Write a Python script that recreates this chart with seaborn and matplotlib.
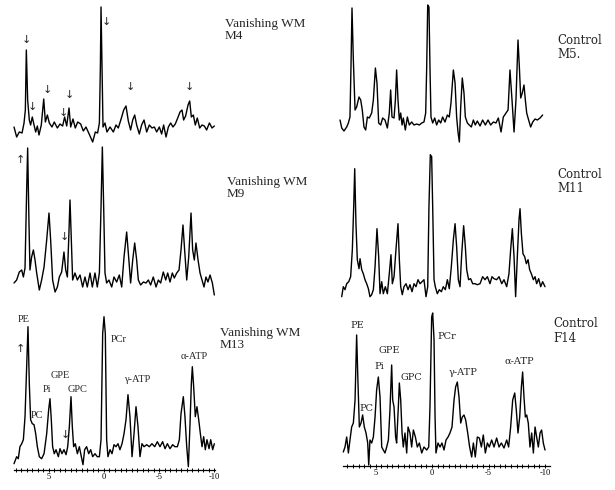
import matplotlib
matplotlib.use("Agg")
import matplotlib.pyplot as plt
import numpy as np
import seaborn as sns

# 31P MR spectra: chemical shift (ppm) and signal (arbitrary units)
m4_ppm = [8.18, 7.94, 7.70, 7.45, 7.27, 7.15, 7.06, 6.94, 6.79, 6.67,
          6.52, 6.36, 6.21, 6.06, 5.91, 5.70, 5.48, 5.33, 5.15, 4.97,
          4.73, 4.52, 4.24, 4.00, 3.76, 3.58, 3.39, 3.18, 3.03, 2.82,
          2.61, 2.39, 2.12, 1.88, 1.64, 1.39, 1.03, 0.79, 0.58, 0.42,
          0.33, 0.27, 0.18, 0.09, -0.09, -0.27, -0.55, -0.85, -1.09, -1.30,
          -1.61, -1.79, -2.00, -2.21, -2.42, -2.61, -2.79, -2.97, -3.21, -3.42,
          -3.64, -3.88, -4.12, -4.36, -4.58, -4.79, -5.03, -5.24, -5.42, -5.64,
          -5.85, -6.06, -6.27, -6.48, -6.70, -6.91, -7.09, -7.24, -7.42, -7.64,
          -7.79, -7.94, -8.12, -8.30, -8.48, -8.70, -8.91, -9.12, -9.33, -9.58,
          -9.82, -10.03]
m4_sig = [3, -7, -2, -3, 7, 20, 80, 30, 10, 5,
          13, 5, -2, 4, -5, 5, 31, 8, 15, 7,
          3, 8, 2, 6, 4, 13, 4, 22, 3, 11,
          2, 8, 6, -1, 3, -3, -12, -2, -3, 7,
          63, 123, 63, 3, 7, -2, 3, -2, 5, 2,
          13, 20, 24, 9, 0, 10, 15, 5, -4, 5,
          10, -2, 5, 2, 3, -2, 3, -4, 5, -7,
          3, 7, 3, 6, 12, 18, 20, 10, 14, 25,
          29, 13, 15, 5, 12, 2, 5, 4, 0, 7,
          2, 4]

m9_ppm = [8.18, 7.94, 7.70, 7.48, 7.33, 7.18, 7.03, 6.94, 6.82, 6.73,
          6.58, 6.42, 6.27, 6.12, 5.88, 5.67, 5.45, 5.21, 5.00, 4.85,
          4.67, 4.45, 4.24, 4.06, 3.85, 3.64, 3.48, 3.33, 3.21, 3.09,
          2.97, 2.85, 2.64, 2.42, 2.18, 1.94, 1.73, 1.52, 1.27, 1.06,
          0.82, 0.61, 0.42, 0.27, 0.15, 0.03, -0.09, -0.24, -0.45, -0.70,
          -0.91, -1.15, -1.39, -1.61, -1.82, -2.06, -2.24, -2.42, -2.61, -2.79,
          -2.97, -3.12, -3.33, -3.58, -3.82, -4.03, -4.24, -4.48, -4.73, -4.94,
          -5.15, -5.39, -5.61, -5.79, -6.00, -6.21, -6.39, -6.61, -6.82, -7.00,
          -7.18, -7.33, -7.52, -7.70, -7.91, -8.06, -8.21, -8.36, -8.55, -8.73,
          -8.91, -9.09, -9.27, -9.45, -9.64, -9.85, -10.03]
m9_sig = [-3, 0, 8, 10, 3, 12, 90, 132, 57, 10,
          23, 30, 20, 7, -10, 0, 13, 40, 67, 40,
          0, -12, -7, 3, 8, 28, 10, 3, 40, 80,
          40, 0, 7, 0, 5, -7, 3, -7, 7, -7,
          7, -7, 7, 73, 133, 73, 7, -3, 0, -7,
          3, -2, 5, -7, 23, 48, 23, -3, 20, 37,
          20, 0, -5, -2, -3, 0, -5, 3, -7, 0,
          -3, 8, 0, 7, -2, 7, 2, 7, 10, 30,
          55, 30, 0, 23, 67, 30, 20, 37, 20, 7,
          0, -7, 3, -2, 5, -3, -15]

m13_ppm = [8.18, 7.94, 7.79, 7.64, 7.48, 7.33, 7.18, 7.03, 6.91, 6.79,
           6.67, 6.52, 6.36, 6.21, 6.06, 5.88, 5.67, 5.45, 5.21, 5.03,
           4.91, 4.79, 4.67, 4.52, 4.36, 4.15, 4.00, 3.82, 3.64, 3.45,
           3.30, 3.15, 3.00, 2.88, 2.76, 2.61, 2.42, 2.24, 2.06, 1.91,
           1.76, 1.58, 1.39, 1.21, 1.03, 0.82, 0.61, 0.42, 0.27, 0.12,
           0.00, -0.12, -0.24, -0.36, -0.55, -0.73, -0.91, -1.09, -1.27, -1.45,
           -1.64, -1.82, -2.00, -2.18, -2.36, -2.55, -2.73, -2.91, -3.09, -3.27,
           -3.45, -3.64, -3.88, -4.12, -4.36, -4.61, -4.85, -5.09, -5.33, -5.55,
           -5.76, -6.00, -6.24, -6.45, -6.67, -6.85, -7.00, -7.21, -7.36, -7.52,
           -7.67, -7.82, -7.94, -8.03, -8.15, -8.30, -8.45, -8.61, -8.76, -8.91,
           -9.06, -9.21, -9.36, -9.55, -9.70, -9.88, -10.03]
m13_sig = [-17, -10, -12, 0, 3, 7, 30, 80, 120, 63,
           27, 23, 22, 13, 0, -10, -12, -7, 13, 37,
           48, 27, 0, -7, -3, -10, -2, -7, -3, -8,
           0, 20, 50, 20, 0, 3, -7, 0, -10, -18,
           -3, 0, -7, -3, -10, -7, -10, -10, 7, 113,
           130, 113, 7, -10, -3, -7, 2, 0, 3, -3,
           3, 13, 27, 52, 30, -10, 13, 40, 20, -10,
           3, 0, 2, 0, 3, 0, 5, 0, 5, -2,
           3, -2, 2, 0, 0, 7, 33, 50, 30, 0,
           -20, 23, 63, 80, 60, 30, 40, 27, 13, 0,
           10, -3, 7, -2, 7, -3, 3]

m5_ppm = [8.14, 7.99, 7.79, 7.55, 7.40, 7.26, 7.17, 7.08, 6.96, 6.81,
          6.67, 6.46, 6.31, 6.17, 6.02, 5.87, 5.72, 5.55, 5.34, 5.19,
          5.01, 4.87, 4.72, 4.54, 4.37, 4.16, 3.95, 3.78, 3.66, 3.54,
          3.36, 3.24, 3.13, 3.01, 2.89, 2.77, 2.65, 2.54, 2.36, 2.18,
          2.01, 1.80, 1.59, 1.36, 1.12, 0.91, 0.71, 0.56, 0.47, 0.38,
          0.27, 0.18, 0.09, -0.06, -0.24, -0.41, -0.59, -0.77, -0.94, -1.15,
          -1.36, -1.53, -1.68, -1.89, -2.04, -2.18, -2.30, -2.42, -2.54, -2.68,
          -2.83, -2.95, -3.13, -3.30, -3.48, -3.66, -3.83, -4.01, -4.25, -4.48,
          -4.72, -4.96, -5.19, -5.43, -5.66, -5.87, -6.11, -6.31, -6.55, -6.73,
          -6.90, -7.08, -7.26, -7.43, -7.61, -7.73, -7.85, -7.99, -8.14, -8.26,
          -8.38, -8.55, -8.73, -8.91, -9.12, -9.32, -9.56, -9.79]
m5_sig = [5, -3, -6, -2, 2, 8, 58, 117, 65, 15,
          18, 28, 25, 15, -2, -5, 8, 7, 12, 25,
          57, 42, 2, 0, 7, 5, -3, 12, 35, 8,
          7, 25, 55, 25, 5, 12, 0, 7, -5, 8,
          0, 3, 0, 1, 0, 2, 3, 12, 58, 120,
          118, 58, 8, 2, 7, 0, 5, 2, 8, 3,
          10, 8, 22, 55, 42, 8, -7, -17, 18, 47,
          32, 8, 2, 0, -2, 5, 0, 4, -1, 5,
          0, 5, 0, 3, 2, 7, -7, 8, 12, 15,
          55, 25, -7, 25, 85, 58, 27, 32, 40, 25,
          12, 5, -2, 3, 6, 5, 7, 10]

m11_ppm = [7.99, 7.85, 7.70, 7.55, 7.37, 7.20, 7.05, 6.93, 6.84, 6.73,
           6.61, 6.46, 6.37, 6.22, 6.08, 5.93, 5.78, 5.63, 5.49, 5.34,
           5.19, 5.04, 4.87, 4.72, 4.60, 4.45, 4.31, 4.13, 3.95, 3.78,
           3.63, 3.51, 3.36, 3.19, 3.01, 2.89, 2.77, 2.63, 2.48, 2.30,
           2.12, 1.95, 1.77, 1.59, 1.42, 1.24, 1.06, 0.88, 0.71, 0.53,
           0.38, 0.27, 0.15, 0.03, -0.06, -0.18, -0.29, -0.47, -0.65, -0.83,
           -1.00, -1.18, -1.36, -1.53, -1.71, -1.89, -2.04, -2.18, -2.33, -2.48,
           -2.63, -2.80, -2.95, -3.07, -3.24, -3.42, -3.60, -3.81, -4.01, -4.25,
           -4.48, -4.69, -4.90, -5.13, -5.31, -5.49, -5.72, -5.93, -6.17, -6.37,
           -6.61, -6.81, -6.96, -7.11, -7.26, -7.40, -7.55, -7.70, -7.79, -7.91,
           -8.05, -8.20, -8.35, -8.50, -8.64, -8.79, -8.97, -9.12, -9.26, -9.44,
           -9.62, -9.79, -10.00]
m11_sig = [-10, 0, -3, 3, 5, 10, 37, 80, 118, 63,
           27, 18, 28, 17, 13, 7, 3, -2, -10, -8,
           -3, 20, 58, 30, -7, 5, -7, 0, -7, 13,
           32, 3, 10, 37, 63, 27, 0, -8, 0, 3,
           -3, 2, -5, 3, 0, 7, 3, 5, 7, -10,
           0, 80, 132, 130, 80, 7, 0, -7, -3, -5,
           0, -3, 7, -2, 20, 47, 63, 40, 7, 0,
           33, 61, 40, 17, 7, 8, 3, 3, 2, 3,
           10, 7, 10, 3, 10, 8, 7, 10, 3, 7,
           0, 13, 37, 58, 30, -10, 30, 67, 78, 53,
           33, 30, 23, 27, 17, 13, 7, 10, 3, 8,
           0, 5, 0]

f14_ppm = [7.85, 7.70, 7.55, 7.40, 7.26, 7.11, 6.96, 6.81, 6.67, 6.55,
           6.43, 6.28, 6.14, 5.99, 5.84, 5.69, 5.60, 5.49, 5.34, 5.19,
           5.04, 4.90, 4.75, 4.60, 4.45, 4.31, 4.16, 4.01, 3.86, 3.72,
           3.57, 3.48, 3.36, 3.22, 3.13, 2.98, 2.89, 2.77, 2.65, 2.54,
           2.39, 2.24, 2.12, 1.95, 1.80, 1.65, 1.47, 1.30, 1.12, 0.91,
           0.71, 0.47, 0.29, 0.18, 0.03, -0.06, -0.18, -0.27, -0.35, -0.53,
           -0.71, -0.88, -1.06, -1.24, -1.42, -1.59, -1.77, -1.95, -2.09, -2.24,
           -2.39, -2.54, -2.68, -2.83, -2.98, -3.16, -3.33, -3.51, -3.66, -3.83,
           -4.01, -4.19, -4.37, -4.54, -4.72, -4.90, -5.07, -5.28, -5.49, -5.72,
           -5.93, -6.14, -6.37, -6.61, -6.78, -6.96, -7.14, -7.32, -7.46, -7.61,
           -7.76, -7.91, -8.02, -8.14, -8.26, -8.38, -8.52, -8.67, -8.82, -8.97,
           -9.12, -9.26, -9.41, -9.56, -9.70, -9.85, -10.00]
f14_sig = [-2, 3, 13, -3, 10, 23, 27, 50, 115, 67,
           23, 27, 35, 23, 17, 7, -15, 10, 7, 13,
           33, 60, 73, 53, 3, 0, -3, 3, 10, 40,
           85, 50, 43, 13, 7, 43, 67, 50, 17, 3,
           17, -3, 23, 17, 3, 20, 13, 3, 7, -3,
           3, 0, 3, 43, 133, 137, 110, 33, -3, 7,
           3, 7, 0, 10, 13, 17, 23, 50, 63, 68,
           53, 27, 33, 35, 30, 17, 3, -7, 7, -7,
           13, 12, 3, 15, -3, 7, 3, 10, 3, 12,
           3, 7, 2, 10, 3, 23, 50, 57, 40, 17,
           33, 63, 78, 53, 33, 35, 27, 3, 17, -3,
           23, 13, 3, 17, 20, 7, 0]

peak_names = ["PE", "PC", "Pi", "GPE", "GPC", "PCr", "γ-ATP", "α-ATP"]
tick_ppm = [5, 0, -5, -10]
tick_labels = ["5", "0", "-5", "-10"]

sns.set_style("white")
plt.rcParams["font.family"] = ["Liberation Serif", "DejaVu Serif"]
plt.rcParams["axes.unicode_minus"] = False

W, H = 615, 490
fig = plt.figure(figsize=(W / 100, H / 100), dpi=100)

LEFT_XLIM = (8.545, -10.545)
RIGHT_XLIM = (8.496, -10.619)


def add_panel(x0, x1, y0, y1, base, xlim):
    ax = fig.add_axes([x0 / W, 1 - y1 / H, (x1 - x0) / W, (y1 - y0) / H])
    ax.set_facecolor("none")
    sns.despine(ax=ax, left=True, bottom=True)
    ax.set_xticks([])
    ax.set_yticks([])
    ax.set_xlim(*xlim)
    ax.set_ylim(base - y1, base - y0)
    return ax


def draw(ax, ppm, sig):
    sns.lineplot(x=ppm, y=sig, ax=ax, color="black", linewidth=1.0,
                 sort=False, estimator=None)
    ax.lines[-1].set_clip_on(False)


ax1 = add_panel(10, 220, 0, 145, 130, LEFT_XLIM)
ax2 = add_panel(10, 220, 142, 300, 280, LEFT_XLIM)
ax3 = add_panel(10, 220, 305, 470, 446.7, LEFT_XLIM)
ax4 = add_panel(336, 552, 0, 145, 125, RIGHT_XLIM)
ax5 = add_panel(336, 552, 142, 300, 286.7, RIGHT_XLIM)
ax6 = add_panel(336, 552, 305, 466, 450, RIGHT_XLIM)

draw(ax1, m4_ppm, m4_sig)
draw(ax2, m9_ppm, m9_sig)
draw(ax3, m13_ppm, m13_sig)
draw(ax4, m5_ppm, m5_sig)
draw(ax5, m11_ppm, m11_sig)
draw(ax6, f14_ppm, f14_sig)

# ppm axis on the bottom row
for ax, lo, hi in [(ax3, 8.2, -10.1), (ax6, 7.9, -10.45)]:
    sp = ax.spines["bottom"]
    sp.set_visible(True)
    sp.set_bounds(hi, lo)
    sp.set_color("black")
    sp.set_linewidth(0.9)
    ax.set_xticks(tick_ppm)
    ax.set_xticklabels(tick_labels, fontsize=6)
    ax.set_xticks([t for t in np.arange(-10, 8.01, 0.5) if hi <= t <= lo], minor=True)
    ax.tick_params(axis="x", which="both", bottom=True, direction="inout",
                   length=3, width=0.7, pad=1, colors="black")
    ax.set_xlabel("ppm", fontsize=5, labelpad=0)

# peak assignments
left_pos = [(7.27, 126.7), (6.06, 31.7), (5.15, 56.7), (3.94, 71.7),
            (2.42, 57.3), (-1.30, 106.7), (-2.97, 67.3), (-8.18, 90)]
right_pos = [(6.61, 125), (5.78, 41.7), (4.69, 83.3), (3.78, 100),
             (1.80, 72.7), (-1.30, 113.3), (-2.71, 77.3), (-7.70, 89)]
for name, (x, y) in zip(peak_names, left_pos):
    ax3.text(x, y, name, ha="center", va="center", fontsize=7.5,
             family=["Liberation Serif", "DejaVu Serif"])
for name, (x, y) in zip(peak_names, right_pos):
    ax6.text(x, y, name, ha="center", va="center", fontsize=7,
             family=["DejaVu Serif", "Liberation Serif"])

# arrows marking changed resonances
arrow_font = dict(ha="center", va="center", fontsize=8, family=["DejaVu Sans"])
for x, y in [(7.09, 90), (6.52, 23), (5.15, 40), (3.70, 17), (3.18, 35),
             (-0.24, 108), (-2.42, 43), (-7.79, 43)]:
    ax1.text(x, y, "↓", **arrow_font)
ax2.text(7.58, 120, "↑", **arrow_font)
ax2.text(3.64, 43, "↓", **arrow_font)
ax3.text(7.57, 98, "↑", **arrow_font)
ax3.text(3.55, 11.7, "↓", **arrow_font)

# subject labels
labels = [
    ("Vanishing WM", "M4", 225, 24, 36, "Liberation Serif", 9.5),
    ("Vanishing WM", "M9", 227, 182, 194, "Liberation Serif", 9.5),
    ("Vanishing WM", "M13", 220, 333, 345, "Liberation Serif", 9.5),
    ("Control", "M5.", 557, 41, 55, "DejaVu Serif", 8.5),
    ("Control", "M11", 557, 174, 189, "DejaVu Serif", 8.5),
    ("Control", "F14", 553, 323, 338, "DejaVu Serif", 8.5),
]
for l1, l2, x, y1, y2, fam, fs in labels:
    fig.text(x / W, 1 - y1 / H, l1, ha="left", va="center", fontsize=fs, family=fam)
    fig.text(x / W, 1 - y2 / H, l2, ha="left", va="center", fontsize=fs, family=fam)

fig.savefig("out.png", dpi=100)
